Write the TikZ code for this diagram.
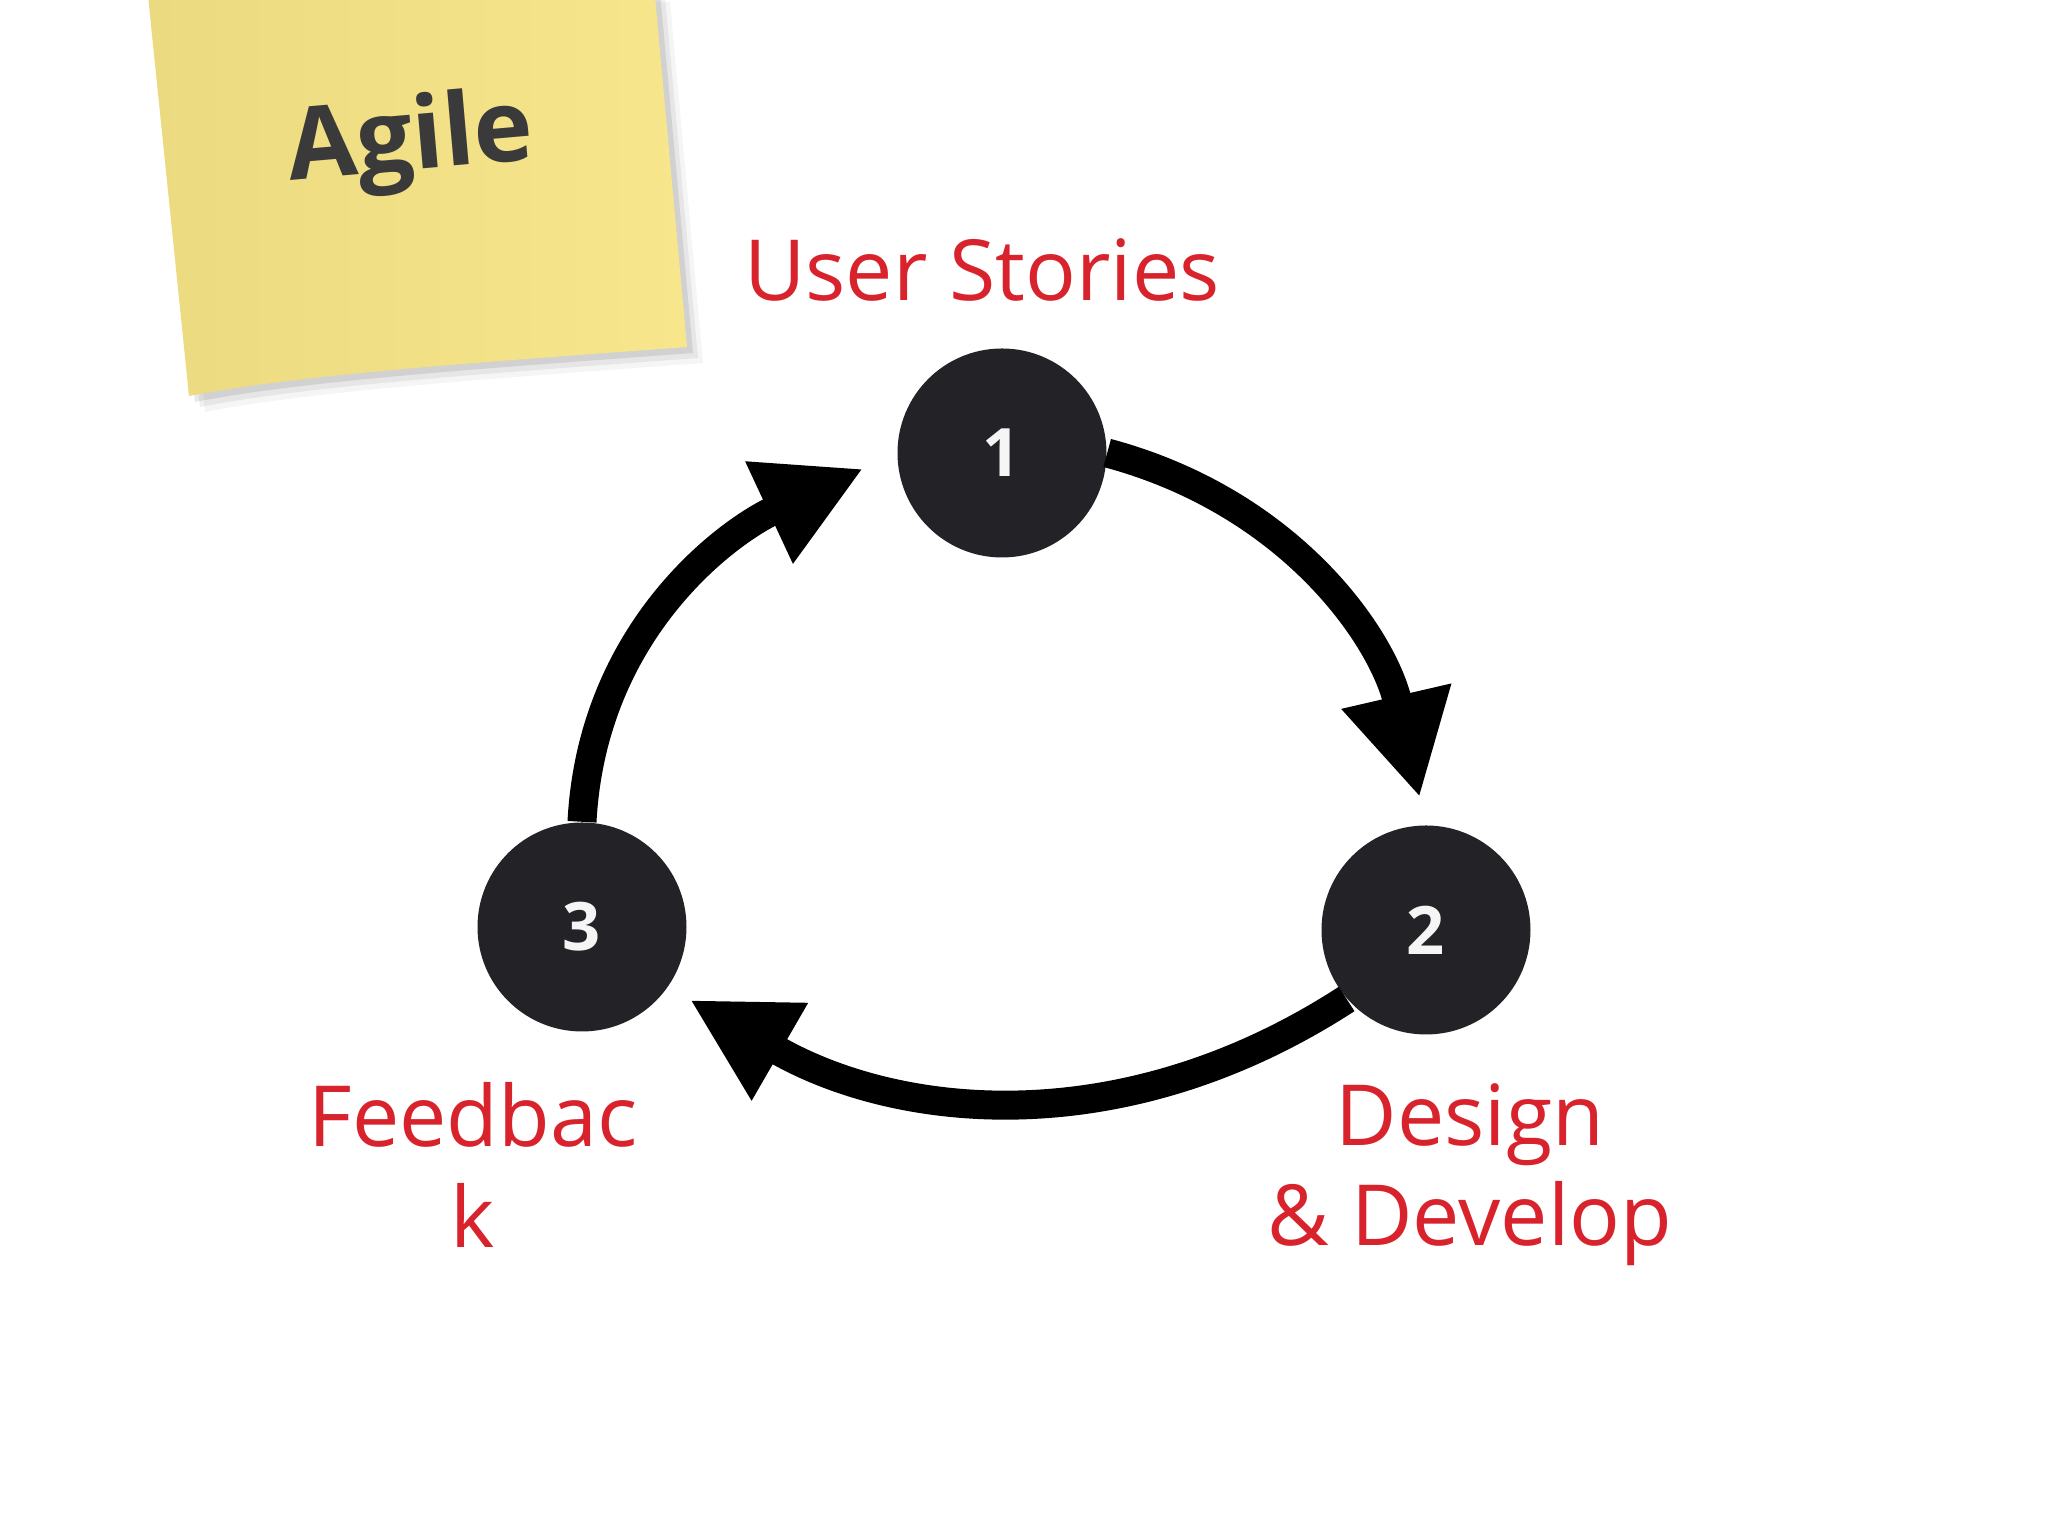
\documentclass[tikz,border=0pt]{standalone}
\usepackage{fontspec}
\setmainfont{Open Sans}
\usetikzlibrary{arrows.meta,positioning}
\definecolor{notecol}{RGB}{248,230,140}
\definecolor{notedark}{RGB}{236,218,128}
\definecolor{storyred}{RGB}{216,35,45}
\definecolor{dotcol}{RGB}{35,34,38}
\definecolor{inkcol}{RGB}{58,58,58}
\newcommand{\notepath}{(1.47,15.5) -- (6.54,15.5) -- (6.87,11.89) .. controls (5.0,11.75) and (3.0,11.62) .. (1.89,11.40) -- cycle}

\begin{document}
\begin{tikzpicture}[
            stagedot/.style={circle, fill=dotcol, minimum size=20.9mm, inner sep=0pt, text=white!92!gray, font=\fontsize{19}{22}\selectfont\bfseries},
            steptag/.style={text=storyred, inner sep=0pt, align=center, font=\fontsize{24}{28.5}\selectfont},
            loopline/.style={line width=2.9mm, -{Triangle[length=10.4mm, width=10.5mm]}}
        ]
            \useasboundingbox (0,0) rectangle (20.48,15.36);
            \fill[white] (0,0) rectangle (20.48,15.36);

            % sticky note
            \foreach \s/\o in {0.16/0.04, 0.11/0.06, 0.06/0.09}
                \fill[black, opacity=\o, xshift=\s cm, yshift=-\s cm] \notepath;
            \shade[left color=notedark, right color=notecol] \notepath;
            \node[text=inkcol, rotate=5, font=\fontsize{28.5}{30}\selectfont\bfseries] (agile) at (4.11,13.92) {Agile};

            % stages
            \node[stagedot] (c1) at (10.02,10.83) {1};
            \node[stagedot] (c2) at (14.26,6.06) {2};
            \node[stagedot] (c3) at (5.82,6.09) {3};

            \node[steptag, above=4.6mm of c1, xshift=-2mm] (stories) {User Stories};
            \node[steptag, below=4.8mm of c2, xshift=4.4mm] (design) {Design\\\& Develop};
            \node[steptag, below=5mm of c3, xshift=-10.9mm] (feedback) {Feedbac\\k};

            \draw[loopline, shorten >=2.8mm] (c1.east) to[out=-15, in=103] (c2.north);
            \draw[loopline, shorten >=2.5mm] (c2.221) to[out=213, in=-30] (c3.-35);
            \draw[loopline, shorten >=3.7mm] (c3.north) to[out=87, in=205] (c1.west);
        \end{tikzpicture}
\end{document}
